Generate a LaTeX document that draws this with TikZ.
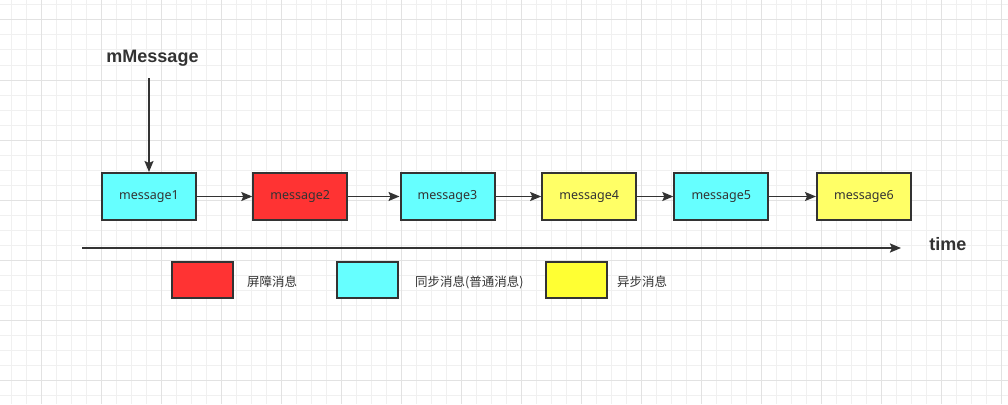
\documentclass[tikz,border=0pt]{standalone}
\usepackage{fontspec}
\setmainfont{Noto Sans}
\newfontfamily\cjk{Noto Sans CJK SC}
\newfontfamily\boldsans{Liberation Sans}
\usetikzlibrary{arrows.meta}
\definecolor{gridminor}{HTML}{F0F0F0}
\definecolor{gridmajor}{HTML}{E2E2E2}
\definecolor{ln}{HTML}{333333}
\definecolor{redf}{HTML}{FF3333}
\definecolor{cyanf}{HTML}{66FFFF}
\definecolor{yelf}{HTML}{FFFF66}
\definecolor{yeltwo}{HTML}{FFFF33}
\begin{document}
\begin{tikzpicture}[x=1pt,y=-1pt,
  msg/.style={draw=ln, line width=2pt, minimum width=94pt, minimum height=47pt, inner sep=0pt, font=\fontsize{12.5}{14}\selectfont, text=ln},
  leg/.style={draw=ln, line width=2pt, minimum width=61pt, minimum height=36pt, inner sep=0pt},
  lab/.style={font=\cjk\fontsize{12.5}{14}\selectfont, text=ln, anchor=west, inner sep=0pt},
  arr/.style={draw=ln, line width=1.5pt, -{Stealth[length=11pt,width=9pt,inset=2pt]}},
  big/.style={font=\boldsans\bfseries\fontsize{18}{20}\selectfont, text=ln, inner sep=0pt}]
\useasboundingbox (0,0) rectangle (1008,404);
\fill[white] (0,0) rectangle (1008,404);
% grid
\foreach \i in {0,...,66} \draw[gridminor, line width=1pt] ({11.7+15*\i},0) -- ({11.7+15*\i},404);
\foreach \i in {0,...,26} \draw[gridminor, line width=1pt] (0,{5+15*\i}) -- (1008,{5+15*\i});
\foreach \i in {0,...,16} \draw[gridmajor, line width=1pt] ({41.7+60*\i},0) -- ({41.7+60*\i},404);
\foreach \i in {0,...,6} \draw[gridmajor, line width=1pt] (0,{20+60*\i}) -- (1008,{20+60*\i});
% message boxes
\node[msg, fill=cyanf] (m1) at (149,196.5) {message1};
\node[msg, fill=redf] (m2) at (300.3,196.5) {message2};
\node[msg, fill=cyanf] (m3) at (447.5,196.5) {message3};
\node[msg, fill=yelf] (m4) at (589.2,196.5) {message4};
\node[msg, fill=cyanf] (m5) at (721.3,196.5) {message5};
\node[msg, fill=yelf] (m6) at (864,196.5) {message6};
\draw[arr] (m1) -- (m2);
\draw[arr] (m2) -- (m3);
\draw[arr] (m3) -- (m4);
\draw[arr] (m4) -- (m5);
\draw[arr] (m5) -- (m6);
% mMessage pointer
\node[big] (mm) at (152.5,58) {mMessage};
\coordinate (mtop) at (149,78);
\draw[arr] (mtop) -- (m1.north);
% time axis
\coordinate (t0) at (82,248);
\coordinate (t1) at (901,248);
\draw[arr, line width=2pt] (t0) -- (t1);
\node[big] (time) at (947.8,244) {time};
% legend
\node[leg, fill=redf] (l1) at (202.8,280.2) {};
\node[lab] (l1t) at (247,282) {屏障消息};
\node[leg, fill=cyanf] (l2) at (367,280.2) {};
\node[lab] (l2t) at (415,282) {同步消息(普通消息)};
\node[leg, fill=yeltwo] (l3) at (576,280.2) {};
\node[lab] (l3t) at (617,282) {异步消息};
\end{tikzpicture}
\end{document}
